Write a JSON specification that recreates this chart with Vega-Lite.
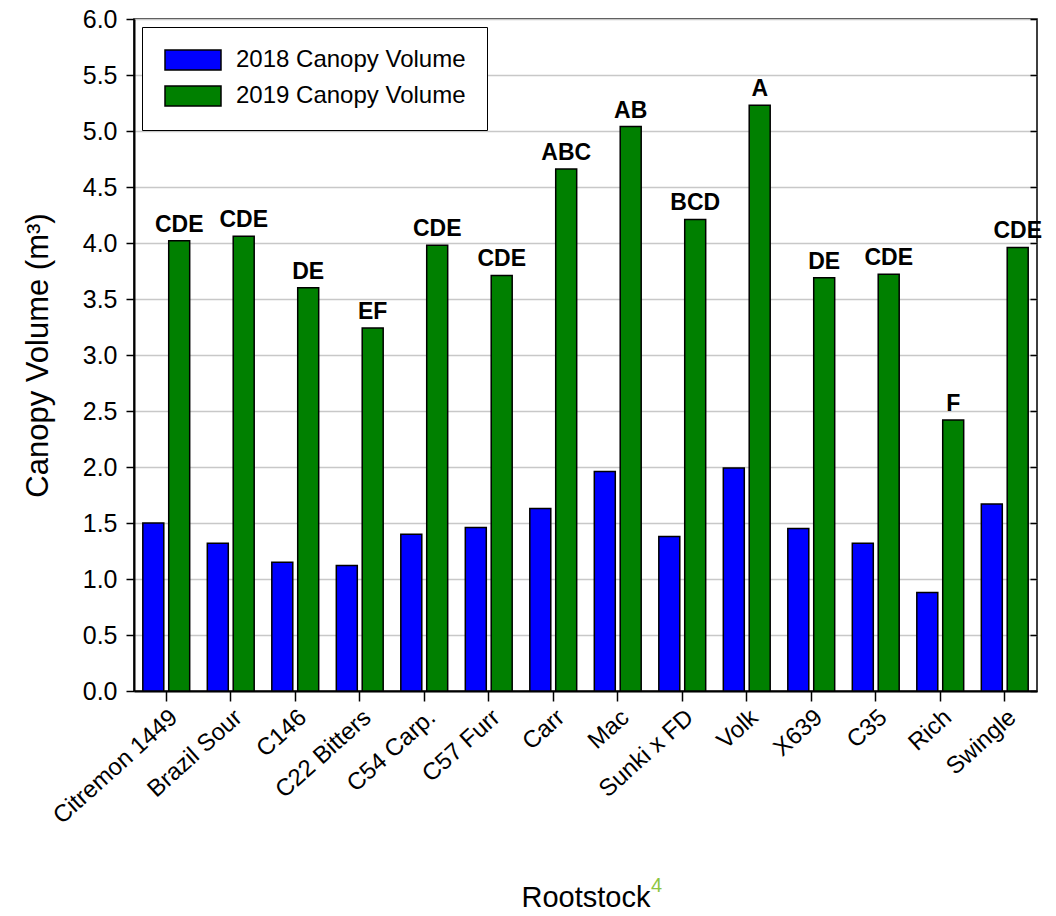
{
  "$schema": "https://vega.github.io/schema/vega-lite/v6.json",
  "autosize": {"type": "none"},
  "width": 903,
  "height": 672,
  "padding": {"left": 134, "top": 19, "right": 19, "bottom": 225},
  "background": "white",
  "title": {
    "text": "4",
    "orient": "bottom",
    "frame": "group",
    "anchor": "middle",
    "baseline": "top",
    "color": "#8dc63f",
    "fontSize": 20,
    "fontWeight": "normal",
    "font": "Liberation Sans",
    "dx": 71,
    "offset": -36
  },
  "config": {
    "font": "Liberation Sans",
    "view": {"stroke": "black", "strokeWidth": 1.5},
    "axis": {
      "labelFont": "Liberation Sans",
      "titleFont": "Liberation Sans",
      "labelColor": "black",
      "titleColor": "black",
      "domainColor": "black",
      "tickColor": "black",
      "titleFontWeight": "normal"
    }
  },
  "data": {
    "values": [
      {"rootstock": "Citremon 1449", "series": "2018 Canopy Volume", "volume": 1.50, "letter": ""},
      {"rootstock": "Citremon 1449", "series": "2019 Canopy Volume", "volume": 4.02, "letter": "CDE"},
      {"rootstock": "Brazil Sour", "series": "2018 Canopy Volume", "volume": 1.32, "letter": ""},
      {"rootstock": "Brazil Sour", "series": "2019 Canopy Volume", "volume": 4.06, "letter": "CDE"},
      {"rootstock": "C146", "series": "2018 Canopy Volume", "volume": 1.15, "letter": ""},
      {"rootstock": "C146", "series": "2019 Canopy Volume", "volume": 3.60, "letter": "DE"},
      {"rootstock": "C22 Bitters", "series": "2018 Canopy Volume", "volume": 1.12, "letter": ""},
      {"rootstock": "C22 Bitters", "series": "2019 Canopy Volume", "volume": 3.24, "letter": "EF"},
      {"rootstock": "C54 Carp.", "series": "2018 Canopy Volume", "volume": 1.40, "letter": ""},
      {"rootstock": "C54 Carp.", "series": "2019 Canopy Volume", "volume": 3.98, "letter": "CDE"},
      {"rootstock": "C57 Furr", "series": "2018 Canopy Volume", "volume": 1.46, "letter": ""},
      {"rootstock": "C57 Furr", "series": "2019 Canopy Volume", "volume": 3.71, "letter": "CDE"},
      {"rootstock": "Carr", "series": "2018 Canopy Volume", "volume": 1.63, "letter": ""},
      {"rootstock": "Carr", "series": "2019 Canopy Volume", "volume": 4.66, "letter": "ABC"},
      {"rootstock": "Mac", "series": "2018 Canopy Volume", "volume": 1.96, "letter": ""},
      {"rootstock": "Mac", "series": "2019 Canopy Volume", "volume": 5.04, "letter": "AB"},
      {"rootstock": "Sunki x FD", "series": "2018 Canopy Volume", "volume": 1.38, "letter": ""},
      {"rootstock": "Sunki x FD", "series": "2019 Canopy Volume", "volume": 4.21, "letter": "BCD"},
      {"rootstock": "Volk", "series": "2018 Canopy Volume", "volume": 1.99, "letter": ""},
      {"rootstock": "Volk", "series": "2019 Canopy Volume", "volume": 5.23, "letter": "A"},
      {"rootstock": "X639", "series": "2018 Canopy Volume", "volume": 1.45, "letter": ""},
      {"rootstock": "X639", "series": "2019 Canopy Volume", "volume": 3.69, "letter": "DE"},
      {"rootstock": "C35", "series": "2018 Canopy Volume", "volume": 1.32, "letter": ""},
      {"rootstock": "C35", "series": "2019 Canopy Volume", "volume": 3.72, "letter": "CDE"},
      {"rootstock": "Rich", "series": "2018 Canopy Volume", "volume": 0.88, "letter": ""},
      {"rootstock": "Rich", "series": "2019 Canopy Volume", "volume": 2.42, "letter": "F"},
      {"rootstock": "Swingle", "series": "2018 Canopy Volume", "volume": 1.67, "letter": ""},
      {"rootstock": "Swingle", "series": "2019 Canopy Volume", "volume": 3.96, "letter": "CDE"}
    ]
  },
  "encoding": {
    "x": {
      "field": "rootstock",
      "type": "nominal",
      "sort": null,
      "scale": {"paddingInner": 0, "paddingOuter": 0},
      "axis": {
        "title": "Rootstock",
        "titleFontSize": 29,
        "titlePadding": 55,
        "labelFontSize": 24,
        "labelAngle": -42,
        "labelPadding": 4,
        "tickSize": 10,
        "tickWidth": 1.5,
        "domainWidth": 2,
        "grid": false,
        "labelOverlap": false
      }
    }
  },
  "resolve": {"axis": {"y": "independent"}},
  "layer": [
    {
      "mark": {"type": "bar", "stroke": "black", "strokeWidth": 1.5},
      "encoding": {
        "xOffset": {
          "field": "series",
          "type": "nominal",
          "scale": {"paddingInner": 0.19, "paddingOuter": 0.34}
        },
        "y": {
          "field": "volume",
          "type": "quantitative",
          "scale": {"domain": [0, 6], "nice": false, "zero": true},
          "axis": {
            "title": "Canopy Volume (m³)",
            "titleFontSize": 31,
            "titlePadding": 28,
            "labelFontSize": 25,
            "labelPadding": 9,
            "format": ".1f",
            "values": [0, 0.5, 1, 1.5, 2, 2.5, 3, 3.5, 4, 4.5, 5, 5.5, 6],
            "tickSize": 8,
            "tickWidth": 1.5,
            "domainWidth": 2,
            "grid": true,
            "gridColor": "#c8c8c8",
            "gridWidth": 1.5
          }
        },
        "color": {
          "field": "series",
          "type": "nominal",
          "scale": {"range": ["#0000ff", "#008000"]},
          "legend": {
            "title": null,
            "orient": "none",
            "legendX": 8,
            "legendY": 8,
            "direction": "vertical",
            "padding": 21,
            "strokeColor": "black",
            "fillColor": "white",
            "symbolType": "M-1,-1h5.6v2h-5.6z",
            "symbolSize": 400,
            "symbolStrokeColor": "black",
            "symbolStrokeWidth": 1.5,
            "symbolOpacity": 1,
            "labelFontSize": 24,
            "labelFont": "Liberation Sans",
            "labelColor": "black",
            "labelLimit": 500,
            "labelOffset": 49,
            "rowPadding": 10
          }
        }
      }
    },
    {
      "transform": [{"filter": "datum.letter != ''"}],
      "mark": {"type": "text", "fontWeight": "bold", "fontSize": 23, "baseline": "bottom", "dy": -4, "color": "black", "font": "Liberation Sans"},
      "encoding": {
        "xOffset": {"field": "series", "type": "nominal"},
        "y": {
          "field": "volume",
          "type": "quantitative",
          "axis": {
            "orient": "right",
            "title": null,
            "labels": false,
            "domain": false,
            "grid": false,
            "values": [0, 0.5, 1, 1.5, 2, 2.5, 3, 3.5, 4, 4.5, 5, 5.5, 6],
            "tickSize": -7,
            "tickWidth": 1.5
          }
        },
        "text": {"field": "letter"}
      }
    }
  ]
}
